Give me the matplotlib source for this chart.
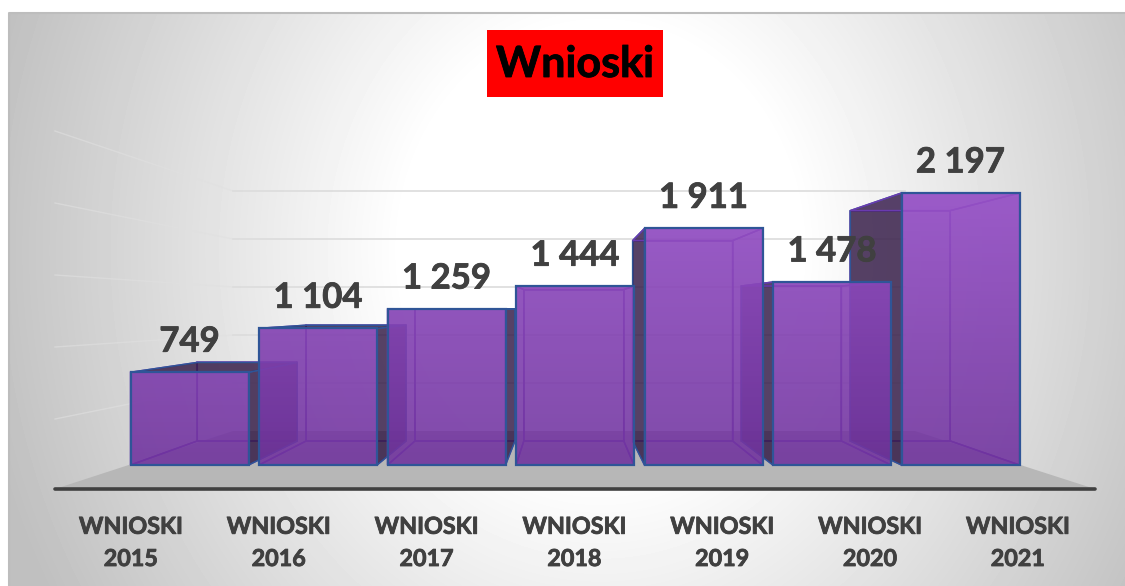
#!/usr/bin/env python3

import matplotlib.pyplot as plt
import matplotlib.patheffects as pe
import numpy as np
from matplotlib.patches import Polygon, Rectangle

years = ["2015", "2016", "2017", "2018", "2019", "2020", "2021"]
wnioski = [749, 1104, 1259, 1444, 1911, 1478, 2197]
title = "Wnioski"
series_name = "WNIOSKI"

W, H = 1125, 586
plt.rcParams['font.family'] = ['Lato', 'DejaVu Sans']

# bar scale: pixels per category and per unit of value
PX_CAT = 128.5
PX_VAL = 0.1238
X0_PX = 189.5    # centre of first bar
Y0_PX = 465.0    # value 0 on the front plane
BAR_W = 118 / PX_CAT
DEPTH = 0.847    # how much the back of a bar shrinks
VP_X = (567 - X0_PX) / PX_CAT
VP_Y = (Y0_PX - 308) / PX_VAL

FRONT = (0.44, 0.20, 0.62, 0.88)
DARK = (0.20, 0.10, 0.27, 0.82)
INNER = (0.45, 0.22, 0.70, 0.05)
BLUE = "#2f5597"
LINE = "#6a3bb0"
TEXT = "#404040"
BOLDER = [pe.withStroke(linewidth=0.6, foreground=TEXT)]


def background(ax):
    yy, xx = np.mgrid[13:H, 9:W]
    r = np.sqrt(((xx - 600) / 620) ** 2 + ((yy - 250) / 700) ** 2)
    grey = 1 - 0.25 * np.clip((r - 0.32) / 0.7, 0, 1)
    ax.imshow(grey, cmap="gray", vmin=0, vmax=1, extent=(9, W, H, 13), aspect="auto", zorder=0)
    ax.plot([9, 9, W], [H, 13, 13], color="#bdbdbd", lw=1.5, zorder=1)

    # side wall and back wall grid
    for y_left, y_back in zip([131, 203, 275, 347, 419], [191, 239, 287, 335, 383]):
        ax.plot([55, 233], [y_left, y_back], color="#e0e0e0", lw=1.0, alpha=0.6, zorder=1)
        ax.plot([233, 905], [y_back, y_back], color="#dcdcdc", lw=1.2, zorder=1)

    ax.add_patch(Polygon([(55, 489), (233, 431), (915, 431), (1095, 489)], fc="#b7b7b7", ec="none", zorder=2))
    ax.plot([55, 1095], [489, 489], color="#404040", lw=2.6, solid_capstyle="round", zorder=3)

    ax.add_patch(Rectangle((487, 30), 176, 67, fc="#ff0000", ec="none", zorder=4))
    ax.text(575, 64, title, color="black", fontsize=31, fontweight="bold", ha="center", va="center", zorder=5,
            path_effects=[pe.withStroke(linewidth=0.6, foreground="black")])


def back(x, y):
    # project a front plane point to the back of the bar
    return VP_X + DEPTH * (x - VP_X), VP_Y + DEPTH * (y - VP_Y)


def draw_bar(ax, i, v, z):
    x0, x1 = i - BAR_W / 2, i + BAR_W / 2
    fl, fr = (x0, 0), (x1, 0)
    tl, tr = (x0, v), (x1, v)
    bl, br, btl, btr = back(*fl), back(*fr), back(*tl), back(*tr)

    faces = [
        ([bl, br, btr, btl], False),
        ([fl, fr, br, bl], False),
        ([fl, tl, btl, bl], btl[0] < x0),
        ([fr, tr, btr, br], btr[0] > x1),
        ([tl, tr, btr, btl], btl[1] > v),
    ]
    for pts, outer in faces:
        if outer:
            ax.add_patch(Polygon(pts, fc=DARK, ec=BLUE, lw=1.1, zorder=z))
        else:
            ax.add_patch(Polygon(pts, fc=INNER, ec=LINE, lw=1.1, zorder=z))

    ax.add_patch(Rectangle((x0, 0), BAR_W, v, fc=FRONT, ec="none", zorder=z + 0.1))
    # front gets lighter higher up
    shade = np.zeros((64, 2, 4))
    shade[..., :3] = (0.75, 0.45, 0.95)
    shade[..., 3] = np.linspace(0.0, 0.45, 64)[:, None]
    img = ax.imshow(shade, origin="lower", extent=(x0, x1, 0, max(wnioski)), aspect="auto", zorder=z + 0.2)
    img.set_clip_path(Rectangle((x0, 0), BAR_W, v, transform=ax.transData))
    ax.add_patch(Rectangle((x0, 0), BAR_W, v, fc="none", ec=BLUE, lw=1.6, zorder=z + 0.3))


def main():
    fig = plt.figure(figsize=(W / 100, H / 100), dpi=100, facecolor="white")

    ax_bg = fig.add_axes([0, 0, 1, 1])
    ax_bg.set_axis_off()
    background(ax_bg)
    ax_bg.set_xlim(0, W)
    ax_bg.set_ylim(H, 0)

    ax = fig.add_axes([0, 0, 1, 1], facecolor="none")
    ax.set_axis_off()
    # painted from the outside in, the middle bars end up on top
    order = [0, 1, 2, 6, 5, 4, 3]
    for n, i in enumerate(order):
        draw_bar(ax, i, wnioski[i], 10 + n)
    ax.set_xlim(-X0_PX / PX_CAT, (W - X0_PX) / PX_CAT)
    ax.set_ylim((Y0_PX - H) / PX_VAL, Y0_PX / PX_VAL)

    for i, v in enumerate(wnioski):
        label = f"{v:,}".replace(",", " ")
        ax.annotate(label, (i, v), xytext=(0, 22), textcoords="offset points", ha="center", va="center",
                    color=TEXT, fontsize=25, fontweight="bold", zorder=30, path_effects=BOLDER)

    # category axis has its own spacing, wider than the bars
    ax_cat = fig.add_axes([131 / W, (H - 489) / H, (1018 - 131) / W, 0.02], facecolor="none")
    ax_cat.set_xlim(0, len(years) - 1)
    ax_cat.set_yticks([])
    for s in ax_cat.spines.values():
        s.set_visible(False)
    ax_cat.set_xticks(range(len(years)))
    ax_cat.set_xticklabels([f"{series_name}\n{y}" for y in years], color=TEXT, fontsize=16.8,
                           fontweight="bold", linespacing=1.66, path_effects=BOLDER)
    ax_cat.tick_params(axis="x", length=0, pad=20)

    fig.savefig("out.png", dpi=100)


if __name__ == "__main__":
    main()
